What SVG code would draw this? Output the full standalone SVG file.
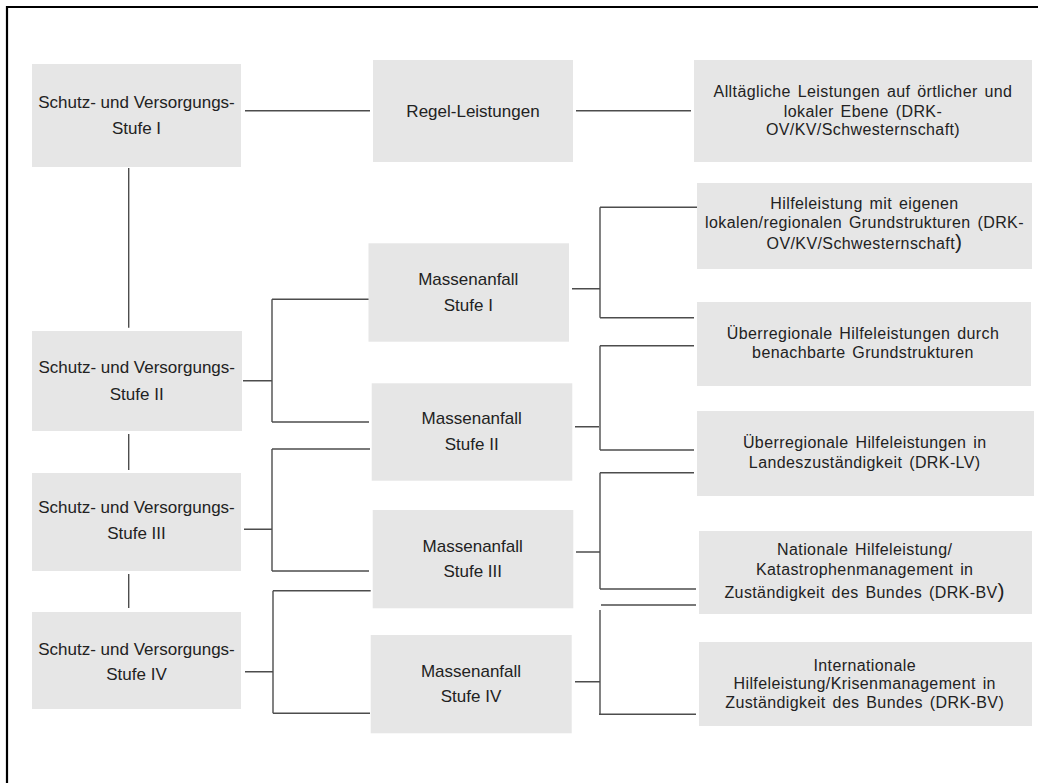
<svg xmlns="http://www.w3.org/2000/svg" width="1038" height="783" viewBox="0 0 1038 783">
<style>
.box{fill:#e6e6e6}
.t{font-family:"Liberation Sans",Arial,sans-serif;font-size:17px;fill:#222;text-anchor:middle}
.r{font-family:"Liberation Sans",Arial,sans-serif;font-size:16px;fill:#222;text-anchor:middle;letter-spacing:0.4px;word-spacing:2px}
.c{fill:none;stroke:#4d4d4d;stroke-width:1.4}
</style>
<rect width="1038" height="783" fill="#fff"/>
<path d="M7,783 V7 H1038" fill="none" stroke="#000" stroke-width="2.2"/>
<g id="connectors">
<path class="c" d="M245,110.7 H370"/>
<path class="c" d="M576,110.7 H691"/>
<path class="c" d="M128.7,168 V327.7"/>
<path class="c" d="M128.7,434 V470"/>
<path class="c" d="M128.7,574 V608"/>
<path class="c" d="M243,380.7 H272 M272,299.3 V422 M272,299.3 H370 M272,422 H369"/>
<path class="c" d="M244,529.3 H272 M272,449 V571 M272,449 H370 M272,571 H369"/>
<path class="c" d="M245,671.7 H273 M273,590.7 V713.3 M273,590.7 H370.7 M273,713.3 H370"/>
<path class="c" d="M572,288.7 H600 M600,207.3 V317.7 M600,207.3 H697 M600,317.7 H694"/>
<path class="c" d="M575,426.7 H599 M600,345.7 V450 M600,345.7 H694 M600,450 H694"/>
<path class="c" d="M576,552 H600 M600,472.7 V589 M600,472.7 H694 M600,589 H696"/>
<path class="c" d="M575,681.7 H600 M600,610 V714.3 M601,605 H696 M599,714.3 H696"/>
</g>
<g id="sv1"><rect class="box" x="32" y="64" width="209" height="103"/>
<text class="t" x="136.5" y="108.3">Schutz- und Versorgungs-</text><text class="t" x="136.5" y="134">Stufe I</text></g>
<g id="sv2"><rect class="box" x="32" y="331" width="210" height="100"/>
<text class="t" x="136.7" y="373.3">Schutz- und Versorgungs-</text><text class="t" x="136.7" y="400">Stufe II</text></g>
<g id="sv3"><rect class="box" x="32" y="473" width="209" height="98"/>
<text class="t" x="136.5" y="513.3">Schutz- und Versorgungs-</text><text class="t" x="136.5" y="539.3">Stufe III</text></g>
<g id="sv4"><rect class="box" x="32" y="612" width="209" height="97"/>
<text class="t" x="136.5" y="655">Schutz- und Versorgungs-</text><text class="t" x="136.5" y="680">Stufe IV</text></g>
<g id="regel"><rect class="box" x="373" y="60" width="200" height="102"/>
<text class="t" x="473" y="116.7">Regel-Leistungen</text></g>
<g id="ma1"><rect class="box" x="368.5" y="243.3" width="200.5" height="98.4"/>
<text class="t" x="468.3" y="285">Massenanfall</text><text class="t" x="468.3" y="311">Stufe I</text></g>
<g id="ma2"><rect class="box" x="371.7" y="383.3" width="200.6" height="97.4"/>
<text class="t" x="471.7" y="424">Massenanfall</text><text class="t" x="471.7" y="450">Stufe II</text></g>
<g id="ma3"><rect class="box" x="372.7" y="510" width="200.6" height="98.3"/>
<text class="t" x="472.7" y="551.7">Massenanfall</text><text class="t" x="472.7" y="577.3">Stufe III</text></g>
<g id="ma4"><rect class="box" x="370.7" y="635" width="201" height="98.3"/>
<text class="t" x="471" y="676.7">Massenanfall</text><text class="t" x="471" y="702.3">Stufe IV</text></g>
<g id="r1"><rect class="box" x="694" y="60" width="338" height="102"/>
<text class="r" x="863" y="97.3">Alltägliche Leistungen auf örtlicher und</text>
<text class="r" x="863" y="116.7">lokaler Ebene (DRK-</text>
<text class="r" x="863" y="135">OV/KV/Schwesternschaft)</text></g>
<g id="r2"><rect class="box" x="697" y="183" width="335" height="86"/>
<text class="r" x="864.5" y="209.3">Hilfeleistung mit eigenen</text>
<text class="r" x="864.5" y="228.3">lokalen/regionalen Grundstrukturen (DRK-</text>
<text class="r" x="864.5" y="249.3">OV/KV/Schwesternschaft<tspan font-size="21">)</tspan></text></g>
<g id="r3"><rect class="box" x="697" y="302" width="334" height="84"/>
<text class="r" x="863" y="339.3">Überregionale Hilfeleistungen durch</text>
<text class="r" x="863" y="358.3">benachbarte Grundstrukturen</text></g>
<g id="r4"><rect class="box" x="697" y="411" width="337" height="85"/>
<text class="r" x="864.7" y="448.3">Überregionale Hilfeleistungen in</text>
<text class="r" x="864.7" y="468.3">Landeszuständigkeit (DRK-LV)</text></g>
<g id="r5"><rect class="box" x="699" y="531" width="333" height="83"/>
<text class="r" x="864.7" y="555">Nationale Hilfeleistung/</text>
<text class="r" x="864.7" y="575">Katastrophenmanagement in</text>
<text class="r" x="864.7" y="597.5">Zuständigkeit des Bundes (DRK-BV<tspan font-size="21">)</tspan></text></g>
<g id="r6"><rect class="box" x="699" y="642" width="333" height="84"/>
<text class="r" x="864.7" y="670.7">Internationale</text>
<text class="r" x="864.7" y="689.3">Hilfeleistung/Krisenmanagement in</text>
<text class="r" x="864.7" y="708.3">Zuständigkeit des Bundes (DRK-BV)</text></g>
</svg>
